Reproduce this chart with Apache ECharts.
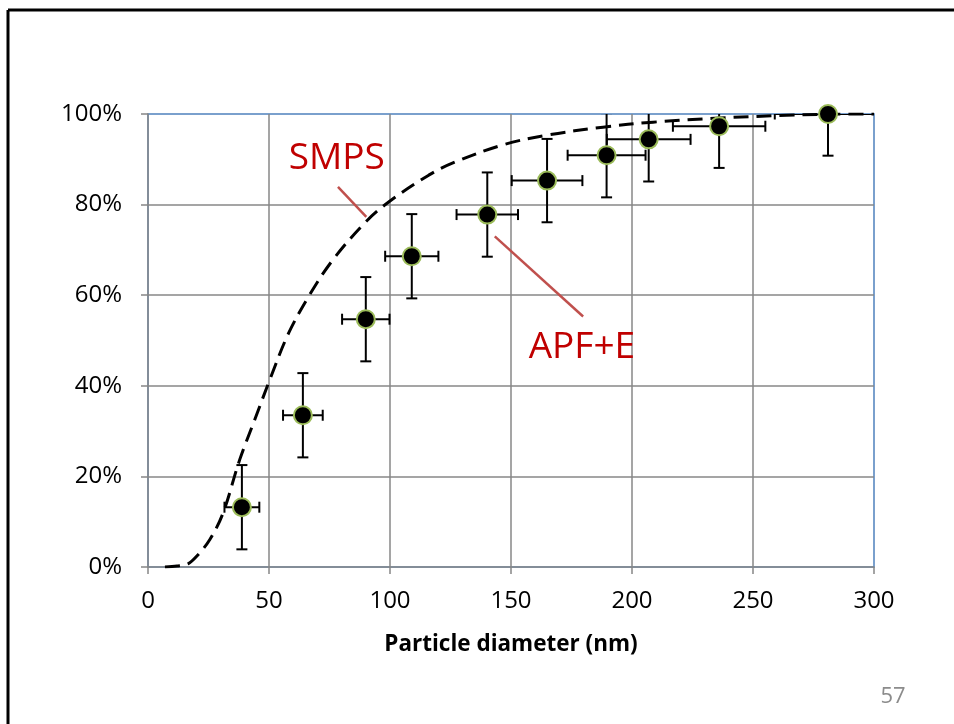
<!DOCTYPE html>
<html>
<head>
<meta charset="utf-8">
<script src="https://cdn.jsdelivr.net/npm/echarts@6/dist/echarts.min.js"></script>
<style>
html,body{margin:0;padding:0;background:#fff;}
#c{width:954px;height:724px;}
</style>
</head>
<body>
<div id="c"></div>
<script>
// ---- data ----
var xTicks = [0, 50, 100, 150, 200, 250, 300];
var yTicks = [0, 20, 40, 60, 80, 100];
var apfX    = [38.8, 64.0, 90.0, 109.0, 140.2, 164.9, 189.5, 206.9, 236.0, 281.0];
var apfY    = [13.2, 33.5, 54.7, 68.6, 77.8, 85.3, 90.9, 94.4, 97.3, 100.0];
var apfXErr = [7.2, 8.2, 9.8, 11.0, 12.7, 14.6, 16.1, 17.3, 19.1, 22.0];
var apfYErr = [9.3, 9.3, 9.3, 9.3, 9.3, 9.2, 9.3, 9.3, 9.2, 9.2];
var smpsX = [7, 12, 16.5, 20, 25.5, 31, 37.9, 44.1, 50.3, 58, 66.8, 76.4, 90, 100, 116, 126, 146.7, 164.6, 188, 208.7, 236, 263.8, 290, 300];
var smpsY = [0, 0.2, 0.7, 2.3, 6, 11.9, 23.7, 32.5, 41.3, 51.5, 60.1, 67.8, 76.2, 80.8, 86.5, 89.2, 93.2, 95.3, 97.1, 98.2, 99.1, 99.7, 100, 100];
var labels = ['SMPS', 'APF+E'];
var labelPos = [[78, 90.2], [179.3, 48.4]];
var leaderFrom = [[78.5, 83.9], [143.3, 73.0]];
var leaderTo = [[90.2, 77.3], [179.8, 55.3]];
var xName = 'Particle diameter (nm)';
var pageNo = '57';

var FONT = '"Open Sans", sans-serif';
var GRID = '#878787';
var BLUE = '#4F81BD';

var chart = echarts.init(document.getElementById('c'), null, {renderer: 'canvas'});

var scatterData = apfX.map(function (x, i) { return [x, apfY[i]]; });
var errData = apfX.map(function (x, i) { return [x, apfY[i], apfXErr[i], apfYErr[i]]; });
var smpsData = smpsX.map(function (x, i) { return [x, smpsY[i]]; });

function renderErr(params, api) {
  var x = api.value(0), y = api.value(1), dx = api.value(2), dy = api.value(3);
  var c = api.coord([x, y]);
  var l = api.coord([x - dx, y]);
  var r = api.coord([x + dx, y]);
  var t = api.coord([x, y + dy]);
  var b = api.coord([x, y - dy]);
  var h = 5.5;
  var st = {stroke: '#000', lineWidth: 2};
  return {
    type: 'group',
    children: [
      {type: 'line', shape: {x1: l[0], y1: c[1], x2: r[0], y2: c[1]}, style: st},
      {type: 'line', shape: {x1: l[0], y1: c[1] - h, x2: l[0], y2: c[1] + h}, style: st},
      {type: 'line', shape: {x1: r[0], y1: c[1] - h, x2: r[0], y2: c[1] + h}, style: st},
      {type: 'line', shape: {x1: c[0], y1: t[1], x2: c[0], y2: b[1]}, style: st},
      {type: 'line', shape: {x1: c[0] - h, y1: t[1], x2: c[0] + h, y2: t[1]}, style: st},
      {type: 'line', shape: {x1: c[0] - h, y1: b[1], x2: c[0] + h, y2: b[1]}, style: st}
    ]
  };
}

chart.setOption({
  animation: false,
  backgroundColor: '#fff',
  grid: {left: 148, top: 114, right: 80, bottom: 157, show: true, borderColor: BLUE, borderWidth: 1.5, backgroundColor: 'transparent'},
  xAxis: {
    type: 'value', min: xTicks[0], max: xTicks[xTicks.length - 1], interval: 50,
    name: xName, nameLocation: 'middle', nameGap: 66,
    nameTextStyle: {fontFamily: FONT, fontSize: 22.5, fontWeight: 'bold', color: '#000'},
    axisLine: {show: true, onZero: false, lineStyle: {color: GRID, width: 1.5}},
    axisTick: {show: true, inside: false, length: 7, lineStyle: {color: GRID, width: 1.5}},
    axisLabel: {fontFamily: FONT, fontSize: 24, color: '#000', margin: 22},
    splitLine: {show: true, showMinLine: false, showMaxLine: false, lineStyle: {color: GRID, width: 1.5}}
  },
  yAxis: {
    type: 'value', min: yTicks[0], max: yTicks[yTicks.length - 1], interval: 20,
    axisLine: {show: true, onZero: false, lineStyle: {color: GRID, width: 1.5}},
    axisTick: {show: true, inside: false, length: 7, lineStyle: {color: GRID, width: 1.5}},
    axisLabel: {fontFamily: FONT, fontSize: 24, color: '#000', margin: 26, formatter: '{value}%'},
    splitLine: {show: true, showMinLine: false, showMaxLine: false, lineStyle: {color: GRID, width: 1.5}}
  },
  series: [
    {
      name: 'SMPS', type: 'line', data: smpsData, smooth: 0.35, showSymbol: false, symbol: 'none',
      lineStyle: {color: '#000', width: 3, type: [15, 8]}, z: 3, clip: true
    },
    {
      name: 'err', type: 'custom', data: errData, renderItem: renderErr, clip: true, z: 4,
      encode: {x: 0, y: 1}
    },
    {
      name: 'APF+E', type: 'scatter', data: scatterData, symbol: 'circle', symbolSize: 18,
      itemStyle: {color: '#000', borderColor: '#9BBB59', borderWidth: 2, opacity: 1}, z: 5, clip: false
    }
  ]
});

function addGraphics() {
  var g = [];
  // slide frame
  g.push({type: 'line', shape: {x1: 8, y1: 10, x2: 8, y2: 724}, style: {stroke: '#000', lineWidth: 3}});
  g.push({type: 'line', shape: {x1: 8, y1: 10, x2: 954, y2: 10}, style: {stroke: '#000', lineWidth: 3}});
  for (var i = 0; i < labels.length; i++) {
    var a = chart.convertToPixel({gridIndex: 0}, leaderFrom[i]);
    var b = chart.convertToPixel({gridIndex: 0}, leaderTo[i]);
    g.push({type: 'line', z: 10, shape: {x1: a[0], y1: a[1], x2: b[0], y2: b[1]}, style: {stroke: '#C0504D', lineWidth: 2.5}});
    var p = chart.convertToPixel({gridIndex: 0}, labelPos[i]);
    g.push({type: 'text', z: 10, x: p[0], y: p[1], style: {text: labels[i], fill: '#C00000', font: '37px ' + FONT, textAlign: 'center', textVerticalAlign: 'middle'}});
  }
  g.push({type: 'text', x: 893, y: 697, style: {text: pageNo, fill: '#8C8C8C', font: '22px ' + FONT, textAlign: 'center', textVerticalAlign: 'middle'}});
  chart.setOption({graphic: g});
}
addGraphics();
</script>
</body>
</html>
